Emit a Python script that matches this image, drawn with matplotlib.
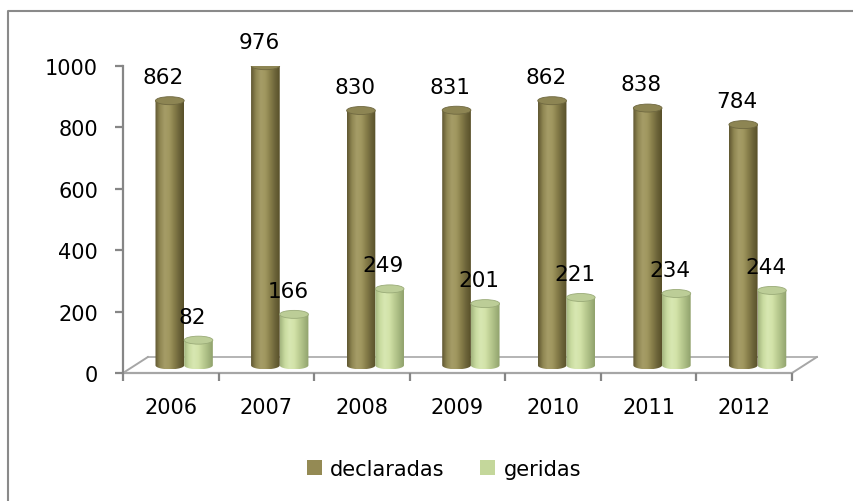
import numpy as np
import matplotlib.pyplot as plt
from matplotlib.patches import Ellipse, PathPatch, Patch
from matplotlib.path import Path
from matplotlib.colors import LinearSegmentedColormap
from matplotlib.lines import Line2D

plt.rcParams['font.family'] = ['DejaVu Sans']

years = ['2006', '2007', '2008', '2009', '2010', '2011', '2012']
declaradas = [862, 976, 830, 831, 862, 838, 784]
geridas = [82, 166, 249, 201, 221, 234, 244]

DEPTH_X = 0.26      # floor depth, category units
DEPTH_Y = 52        # floor depth, value units
BAR_W = 0.30
CAP_H = 26
BASE = 25

dark_cmap = LinearSegmentedColormap.from_list(
    'decl', ['#5f5731', '#8f8652', '#a59c67', '#a0975f', '#877e4a', '#6d653a', '#585029'])
light_cmap = LinearSegmentedColormap.from_list(
    'ger', ['#a3b57e', '#c9dba0', '#d8e8b2', '#d2e2a8', '#bccd92', '#a6b87f', '#90a16c'])

fig = plt.figure(figsize=(8.54, 5.02), dpi=100)
ax = fig.add_axes([123/854, 128/502, 669/854, 307/502])


def cylinder(ax, xc, val, cmap, cap_color, edge_color):
    x0, x1 = xc - BAR_W/2, xc + BAR_W/2
    top = BASE + val
    t = np.linspace(0, -np.pi, 40)
    arc = np.column_stack([xc + BAR_W/2*np.cos(t), BASE + CAP_H/2*np.sin(t)])
    verts = np.vstack([[[x0, top], [x1, top]], arc, [[x0, top]]])
    codes = [Path.MOVETO] + [Path.LINETO]*(len(verts) - 2) + [Path.CLOSEPOLY]
    body = PathPatch(Path(verts, codes), facecolor='none', edgecolor='none')
    ax.add_patch(body)
    grad = np.linspace(0, 1, 100)[None, :]
    im = ax.imshow(grad, cmap=cmap, extent=[x0, x1, BASE - CAP_H/2, top],
                   aspect='auto', interpolation='bicubic', zorder=2)
    im.set_clip_path(body)
    ax.add_patch(Ellipse((xc, top), BAR_W, CAP_H, facecolor=cap_color,
                         edgecolor=edge_color, lw=0.6, zorder=3))
    ax.annotate(str(val), (xc, top), xytext=(-4.5, 17), textcoords='offset points',
                ha='center', va='center', fontsize=15.5, color='black', zorder=4)


# floor
ax.plot([0, 7], [0, 0], color='#a6a6a6', lw=1.6, zorder=1, clip_on=False)
ax.plot([DEPTH_X, 7 + DEPTH_X], [DEPTH_Y, DEPTH_Y], color='#b4b4b4', lw=1.4, zorder=1, clip_on=False)
ax.plot([0, DEPTH_X], [0, DEPTH_Y], color='#a6a6a6', lw=1.4, zorder=1, clip_on=False)
ax.plot([7, 7 + DEPTH_X], [0, DEPTH_Y], color='#a6a6a6', lw=1.4, zorder=1, clip_on=False)

for i in range(len(years)):
    cylinder(ax, i + 0.49, declaradas[i], dark_cmap, '#8d8553', '#6f6840')
    cylinder(ax, i + 0.79, geridas[i], light_cmap, '#bccd97', '#9aab78')

ax.set_xlim(0, 7)
ax.set_ylim(0, 1000)
for s in ['top', 'right', 'bottom']:
    ax.spines[s].set_visible(False)
ax.spines['left'].set_color('#868686')
ax.spines['left'].set_linewidth(1.6)

ax.set_yticks([0, 200, 400, 600, 800, 1000])
ax.tick_params(axis='y', length=6, width=1.6, color='#868686', pad=12, labelsize=15)
ax.set_xticks(range(8))
ax.set_xticklabels([])
ax.tick_params(axis='x', which='major', length=6, width=1.6, color='#868686', direction='out')
ax.set_xticks([i + 0.5 for i in range(len(years))], minor=True)
ax.set_xticklabels(years, minor=True)
ax.tick_params(axis='x', which='minor', length=0, pad=17, labelsize=15)

handles = [Patch(facecolor='#948a54', edgecolor='none'), Patch(facecolor='#c4d79b', edgecolor='none')]
fig.legend(handles, ['declaradas', 'geridas'], loc='center', bbox_to_anchor=(444/854, 1 - 470/502),
           ncol=2, frameon=False, fontsize=15, handlelength=0.72, handleheight=0.72,
           handletextpad=0.4, columnspacing=1.7)

# chart frame (only left and top edges visible)
fig.add_artist(Line2D([8/854, 8/854, 1], [0, 1 - 12/502, 1 - 12/502],
                      color='#8a8a8a', lw=1.5, transform=fig.transFigure))

fig.savefig('out.png', dpi=100)
